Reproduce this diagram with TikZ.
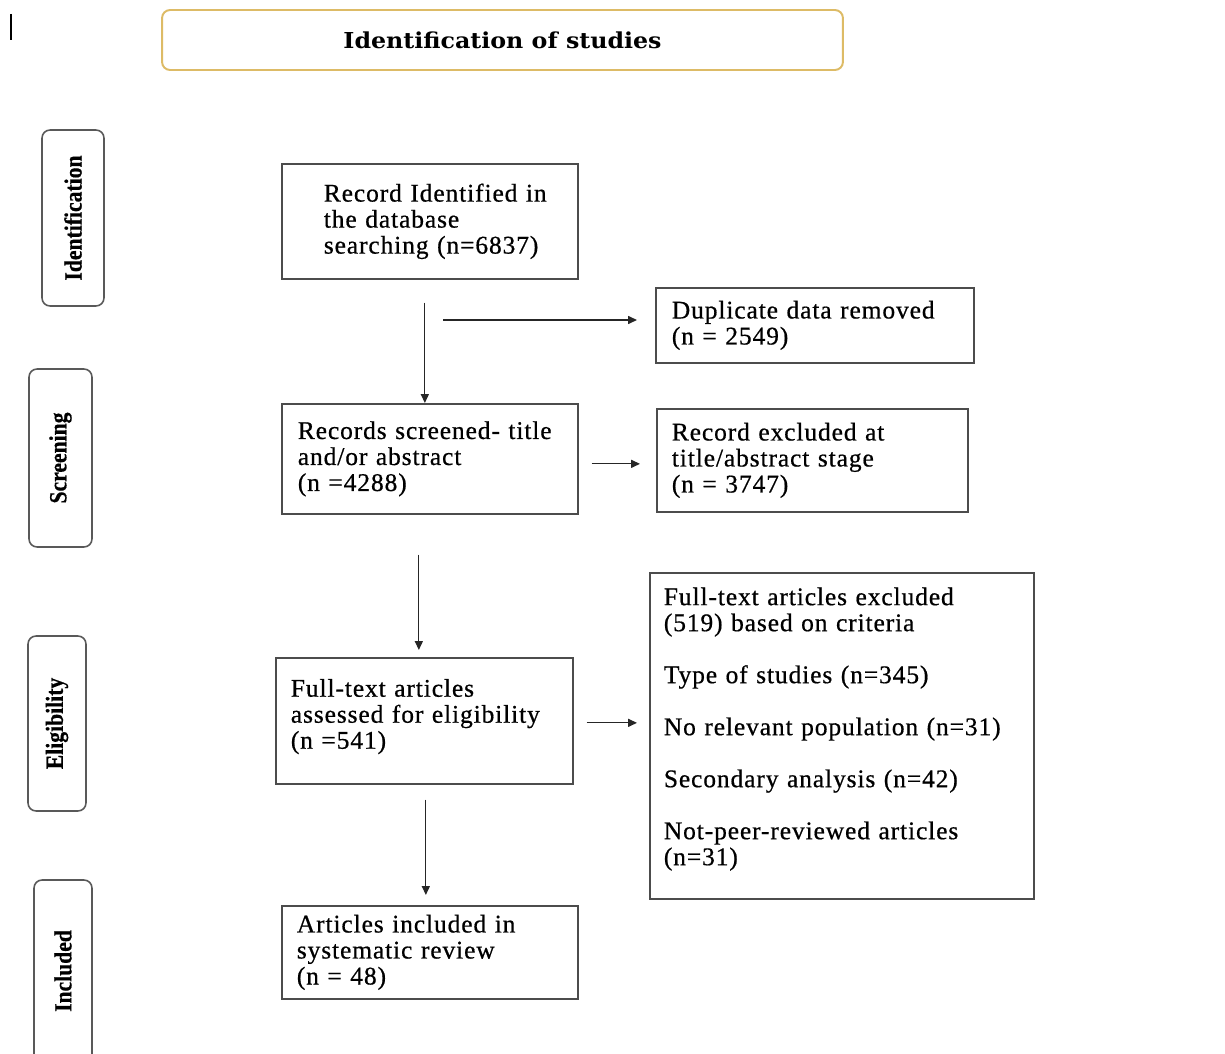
\documentclass[tikz,border=0pt]{standalone}
\usepackage{fontspec}
\setmainfont{Liberation Serif}
\newfontfamily\bodyfont[LetterSpace=3.5,FakeBold=0.6]{Liberation Serif}
\newfontfamily\stagefont[FakeBold=0.6]{Liberation Serif}
\newfontfamily\titlefont{DejaVu Serif}
\usetikzlibrary{arrows.meta}
\definecolor{goldline}{HTML}{DDBB66}

\begin{document}
\begin{tikzpicture}[x=0.02cm, y=-0.02cm,
    stage/.style={draw=black!65, line width=0.9pt, rounded corners=0.16cm, rotate=90,
      inner sep=0pt, font=\stagefont\fontsize{14pt}{16pt}\selectfont\bfseries},
    titlebox/.style={draw=goldline, line width=1.1pt, rounded corners=0.16cm,
      font=\titlefont\fontsize{12.5pt}{14pt}\selectfont\bfseries},
    box/.style={draw=black!70, line width=1pt, anchor=north west, align=left,
      inner ysep=0pt, font=\bodyfont\fontsize{14.5pt}{14.8pt}\selectfont},
    arr/.style={-{Triangle[length=5pt,width=4.5pt]}, line width=0.7pt, black!85}]

  \clip (0,0) rectangle (1225,1054);

  \draw[line width=0.8pt] (11,14) -- (11,40);

  \node[titlebox, minimum width=13.62cm, minimum height=1.2cm] (title) at (502.5,40) {\scalebox{1.08}[1]{Identification of studies}};

  % stages on the left
  \node[stage, minimum width=3.52cm, minimum height=1.24cm] (sid) at (73,218) {\scalebox{0.88}[1]{Identification}};
  \node[stage, minimum width=3.56cm, minimum height=1.26cm] (sscr) at (60.5,458) {\scalebox{0.88}[1]{Screening}};
  \node[stage, minimum width=3.5cm, minimum height=1.16cm] (selig) at (57,723.5) {\scalebox{0.88}[1]{Eligibility}};
  \node[stage, minimum width=3.64cm, minimum height=1.16cm] (sincl) at (63,971) {\scalebox{0.88}[1]{Included}};

  % main flow
  \node[box, minimum width=5.92cm, minimum height=2.3cm, inner xsep=0.84cm, text width=4.24cm] (rec) at (281,163)
    {\mbox{Record Identified in}\\the database\\\mbox{searching (n=6837)}};
  \node[box, minimum width=6.36cm, minimum height=1.5cm, inner xsep=0.32cm, text width=5.72cm] (dup) at (655,287)
    {Duplicate data removed\\(n = 2549)};
  \node[box, minimum width=5.92cm, minimum height=2.2cm, inner xsep=0.32cm, text width=5.28cm] (scr) at (281,403)
    {\mbox{Records screened- title}\\and/or abstract\\(n =4288)};
  \node[box, minimum width=6.22cm, minimum height=2.06cm, inner xsep=0.3cm, text width=5.62cm] (exc) at (656,408)
    {Record excluded at\\title/abstract stage\\(n = 3747)};
  \node[box, minimum width=5.94cm, minimum height=2.52cm, inner xsep=0.3cm, text width=5.34cm] (elig) at (275,657)
    {Full-text articles\\\mbox{assessed for eligibility}\\(n =541)\rule[-0.28cm]{0pt}{0.28cm}};
  \node[box, minimum width=7.68cm, minimum height=6.52cm, inner xsep=0.28cm, text width=7.12cm] (crit) at (649,572)
    {\mbox{Full-text articles excluded}\\(519) based on criteria\\[14.8pt]
     Type of studies (n=345)\\[14.8pt]
     \mbox{No relevant population (n=31)}\\[14.8pt]
     Secondary analysis (n=42)\\[14.8pt]
     Not-peer-reviewed articles\\(n=31)\rule[-0.38cm]{0pt}{0.38cm}};
  \node[box, minimum width=5.92cm, minimum height=1.86cm, inner xsep=0.3cm, text width=5.32cm] (incl) at (281,905)
    {Articles included in\\systematic review\\(n = 48)};

  \coordinate (split) at (443,320);

  \draw[arr, shorten <=0.46cm] ([xshift=-0.1cm]rec.south) -- ([xshift=-0.1cm]rec.south |- scr.north);
  \draw[arr, shorten >=0.36cm] (split) -- (split -| dup.west);
  \draw[arr, shorten <=0.26cm, shorten >=0.32cm] ([yshift=-0.1cm]scr.east) -- ([yshift=-0.1cm]scr.east -| exc.west);
  \draw[arr, shorten <=0.8cm, shorten >=0.14cm] ([xshift=-0.22cm]scr.south) -- ([xshift=-0.22cm]scr.south |- elig.north);
  \draw[arr, shorten <=0.26cm, shorten >=0.24cm] ([yshift=-0.04cm]elig.east) -- ([yshift=-0.04cm]elig.east -| crit.west);
  \draw[arr, shorten <=0.3cm, shorten >=0.2cm] ([xshift=-0.08cm]incl.north |- elig.south) -- ([xshift=-0.08cm]incl.north);

\end{tikzpicture}
\end{document}
